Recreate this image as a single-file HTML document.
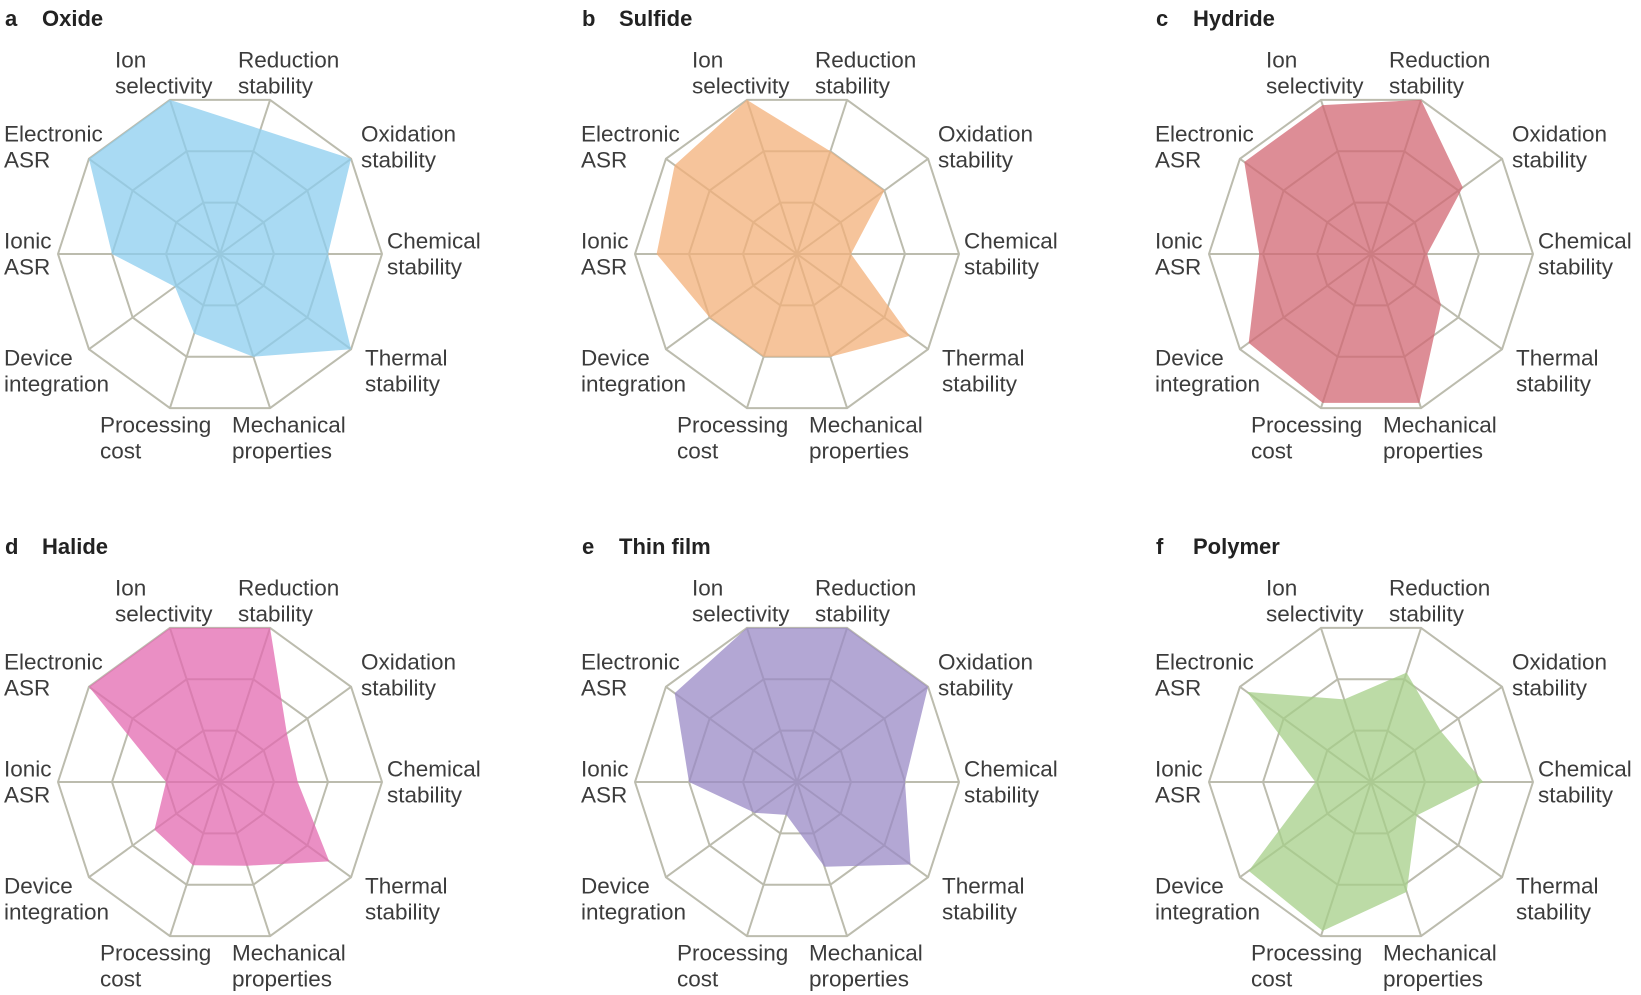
<!DOCTYPE html>
<html><head><meta charset="utf-8">
<style>
html,body{margin:0;padding:0;background:#fff;}
svg{display:block;}
text{font-family:"Liberation Sans",sans-serif;}
</style></head>
<body>
<svg id="fig" width="1641" height="995" viewBox="0 0 1641 995" xmlns="http://www.w3.org/2000/svg"></svg>
<script>
// Axis categories (clockwise from upper-left of top)
const categories = ["Ion selectivity","Reduction stability","Oxidation stability","Chemical stability","Thermal stability","Mechanical properties","Processing cost","Device integration","Ionic ASR","Electronic ASR"];
const panelLetters = ["a","b","c","d","e","f"];
const panelTitles = ["Oxide","Sulfide","Hydride","Halide","Thin film","Polymer"];
// Series values on 0..3 scale, same order as categories
const oxideValues    = [3, 2.43, 3, 2, 3, 2, 1.55, 1.03, 2, 3];
const sulfideValues  = [3, 2, 2, 1, 2.58, 2, 2, 2, 2.6, 2.8];
const hydrideValues  = [2.9, 3, 2.1, 1.04, 1.6, 2.9, 2.9, 2.8, 2.07, 2.9];
const halideValues   = [3, 3, 1.53, 1.44, 2.5, 1.63, 1.62, 1.5, 1.0, 3];
const thinFilmValues = [3, 3, 3, 2, 2.6, 1.65, 0.64, 0.97, 2, 2.8];
const polymerValues  = [1.61, 2.13, 1.6, 2.08, 1.05, 2.14, 2.9, 2.8, 1.03, 2.84];
const ringLevels = [1, 2, 3];
const maxValue = 3;

const series = [oxideValues, sulfideValues, hydrideValues, halideValues, thinFilmValues, polymerValues];
const fills = ["rgb(140,206,239)","rgb(243,176,122)","rgb(210,103,115)","rgb(227,106,176)","rgb(154,138,198)","rgb(166,207,136)"];
const centers = [[220,254],[797,254],[1371,254],[220,782],[797,782],[1371,782]];
const R = 162;
const labelPos = [[-105,-194],[18,-194],[141,-120],[167,-13],[145,104],[12,171],[-120,171],[-216,104],[-216,-13],[-216,-120]];
const labelLines = [["Ion","selectivity"],["Reduction","stability"],["Oxidation","stability"],["Chemical","stability"],["Thermal","stability"],["Mechanical","properties"],["Processing","cost"],["Device","integration"],["Ionic","ASR"],["Electronic","ASR"]];

const NS = "http://www.w3.org/2000/svg";
const svg = document.getElementById("fig");
function mk(tag, attrs, parent){const e=document.createElementNS(NS,tag);for(const k in attrs)e.setAttribute(k,attrs[k]);(parent||svg).appendChild(e);return e;}
function angle(i){return (-18 + 36*i) * Math.PI/180;}
function pt(cx,cy,i,v){const r=R*v/maxValue;const a=angle(i);return [cx+r*Math.sin(a), cy-r*Math.cos(a)];}

series.forEach((vals, p) => {
  const [cx,cy] = centers[p];
  const g = mk("g", {});
  
  
  const tl = mk("text", {x: cx-215, y: cy - 228, "font-size": 22, "font-weight": "bold", fill: "#222"}, g);
  tl.textContent = panelLetters[p];
  
  
  const tt = mk("text", {x: cx-178, y: cy - 228, "font-size": 22, "font-weight": "bold", fill: "#222"}, g);
  tt.textContent = panelTitles[p];
  
  
  ringLevels.forEach(lv => {
    const pts = categories.map((c,i)=>pt(cx,cy,i,lv).join(",")).join(" ");
    const ring = mk("polygon", {points: pts, fill: "none", stroke: "#bcbcae", "stroke-width": 2}, g);
    
    
  });
  categories.forEach((c,i) => {
    const [x,y] = pt(cx,cy,i,maxValue);
    const sp = mk("line", {x1: cx, y1: cy, x2: x, y2: y, stroke: "#bcbcae", "stroke-width": 2}, g);
    
    
  });
  const dpts = vals.map((v,i)=>pt(cx,cy,i,v).join(",")).join(" ");
  const poly = mk("polygon", {points: dpts, fill: fills[p], "fill-opacity": 0.75, stroke: "none"}, g);
  
  
  categories.forEach((c,i) => {
    const [dx,dy] = labelPos[i];
    labelLines[i].forEach((line,k) => {
      const t = mk("text", {x: cx+dx, y: cy+dy+k*26, "font-size": 22.5, fill: "#3c3c3c", "dominant-baseline": "central"}, g);
      t.textContent = line;
      
      
    });
  });
});
</script>
</body></html>
